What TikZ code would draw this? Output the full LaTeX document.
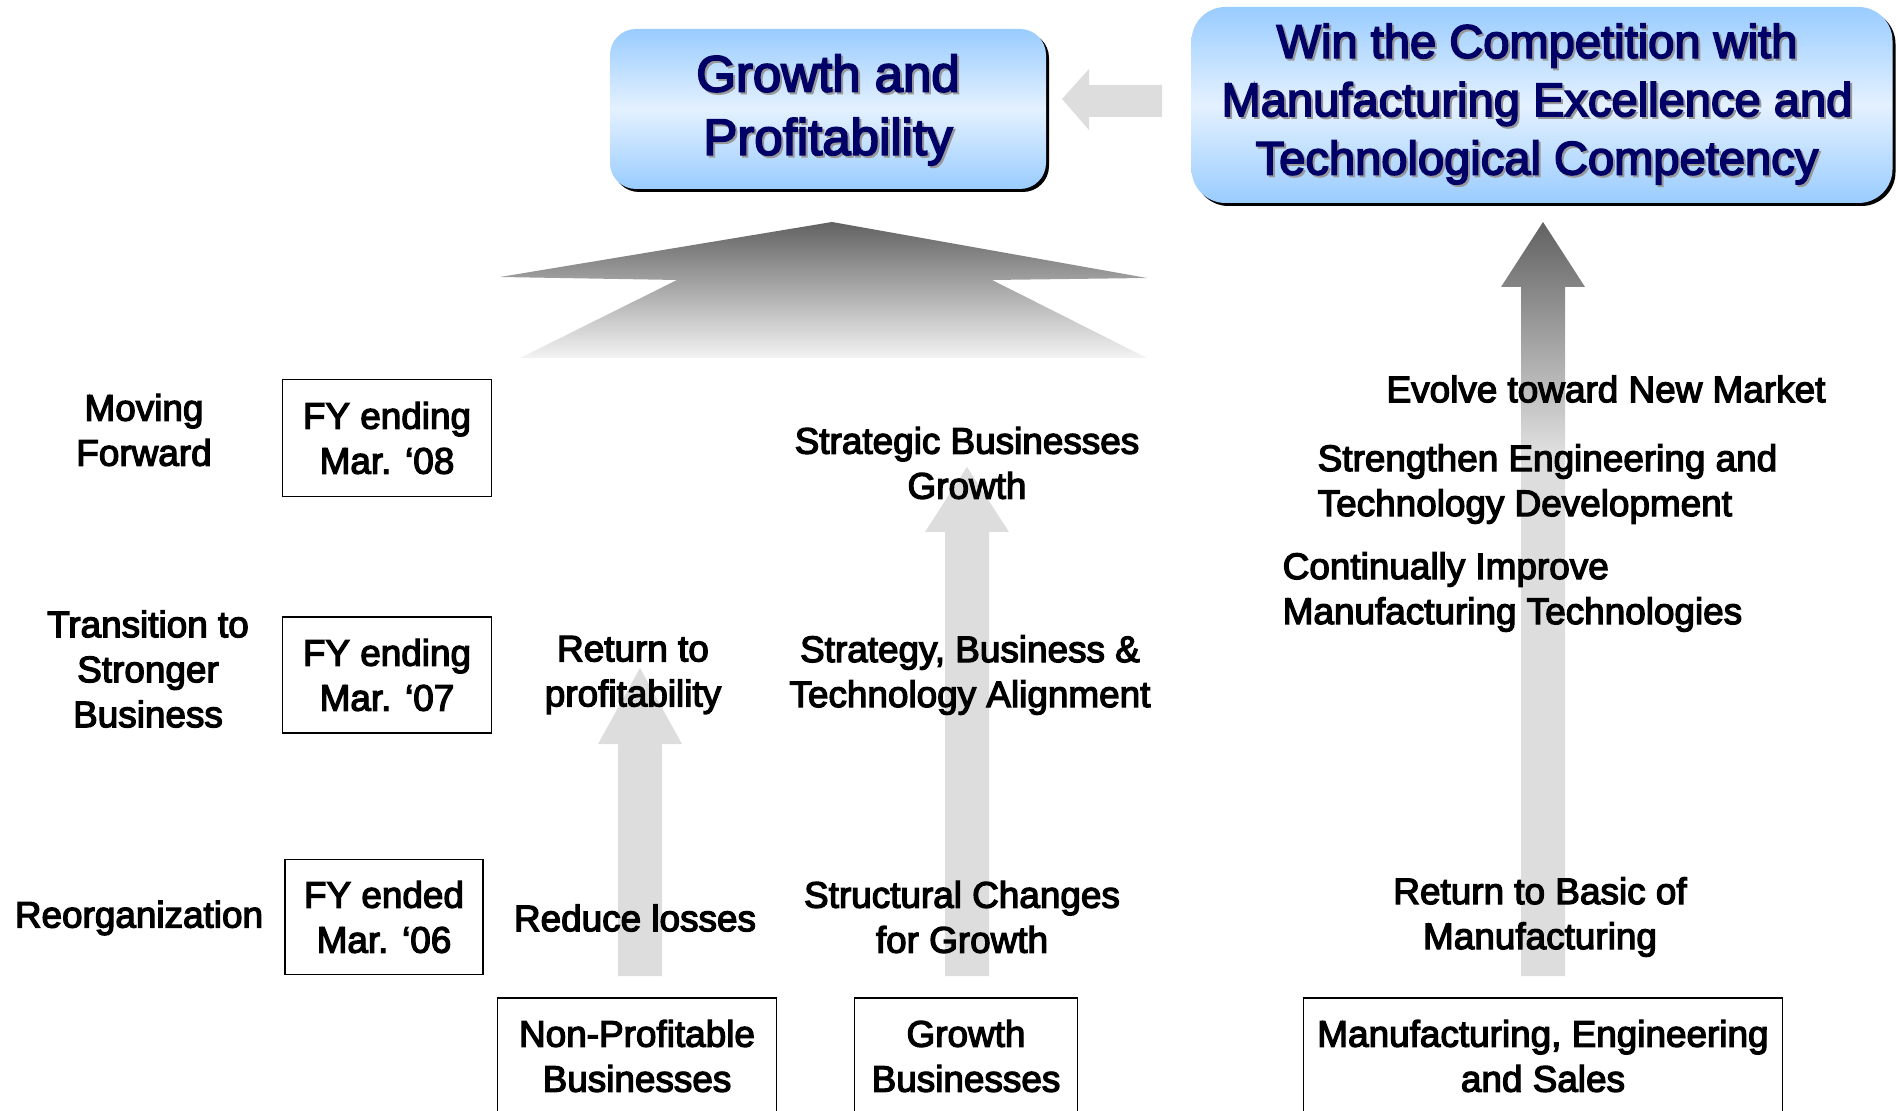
\documentclass[tikz,border=0pt]{standalone}
\usepackage{fontspec}
\setmainfont{Liberation Sans}[FakeBold=3.5]
\usetikzlibrary{shadows}
\definecolor{navy}{RGB}{0,0,102}
\definecolor{skyedge}{RGB}{153,204,255}
\definecolor{skymid}{RGB}{228,241,255}
\definecolor{palegray}{RGB}{221,221,221}
\definecolor{deepgray}{RGB}{98,98,98}
\definecolor{fadegray}{RGB}{243,243,243}
\pgfdeclareverticalshading{risegray}{100bp}{color(0bp)=(palegray); color(60bp)=(palegray); color(75bp)=(deepgray); color(100bp)=(deepgray)}
% upward block arrow: style, x, tip y, head base y, foot y
\newcommand{\blockarrow}[5]{\path[#1] (#2,#3) -- (#2+42,#4) -- (#2+22,#4) -- (#2+22,#5) -- (#2-22,#5) -- (#2-22,#4) -- (#2-42,#4) -- cycle;}
\begin{document}
\begin{tikzpicture}[x=0.1mm,y=-0.1mm,line join=miter,stage/.style={font=\fontsize{10.5}{12.8}\selectfont, align=center, inner sep=0pt},year box/.style={draw, line width=0.17mm, font=\fontsize{10.5}{12.8}\selectfont, align=center, inner sep=0pt},unit box/.style={draw, line width=0.17mm, font=\fontsize{10.5}{12.8}\selectfont, align=center, inner sep=0pt, minimum height=11.6mm},goal box/.style={top color=skyedge, bottom color=skyedge, middle color=skymid, drop shadow={shadow xshift=0.3mm, shadow yshift=-0.3mm, fill=black, opacity=1}},goal text/.style={font=\fontsize{13.4}{16.6}\selectfont, align=center, inner sep=0pt, text=navy},goal shade/.style={goal text, text=black!40},flat arrow/.style={fill=palegray}]%
\useasboundingbox (0,0) rectangle (1898,1111);%
  % Goals%
\node[goal box, rounded corners=2.6mm, minimum width=43.6mm, minimum height=16mm] (growth) at (828,109) {};%
\node[goal box, rounded corners=3.4mm, minimum width=70.1mm, minimum height=19.6mm] (win) at (1542,105) {};%
\node[goal shade, font=\fontsize{14.5}{18}\selectfont] (growth-shade) at (830,112) {Growth and\\Profitability};%
\node[goal text, font=\fontsize{14.5}{18}\selectfont] (growth-text) at (828,110) {Growth and\\Profitability};%
\node[goal shade] (win-shade) at (1539,106) {Win the Competition with\\Manufacturing Excellence and\\Technological Competency};%
\node[goal text] (win-text) at (1537,104) {Win the Competition with\\Manufacturing Excellence and\\Technological Competency};%
\path[flat arrow] (1062,99) -- (1089,69) -- (1089,85) -- (1162,85) -- (1162,117) -- (1089,117) -- (1089,130) -- cycle;%
  % Rising arrows%
\path[top color=deepgray, bottom color=fadegray] (832,222) -- (1147,278) -- (992,280) -- (1147,358) -- (520,358) -- (677,280) -- (500,277) -- cycle;%
\blockarrow{flat arrow}{640}{668}{744}{976}%
\blockarrow{flat arrow}{967}{467}{532}{976}%
\blockarrow{shading=risegray}{1543}{222}{287}{976}%
  % Year 2008%
\node[stage] (moving) at (144,430) {Moving\\Forward};%
\node[year box, minimum width=20.9mm, minimum height=11.7mm] (fy08) at (387,438) {FY ending\\Mar. `08};%
  % Year 2007%
\node[stage] (transition) at (148,669) {Transition to\\Stronger\\Business};%
\node[year box, minimum width=20.9mm, minimum height=11.6mm] (fy07) at (387,675) {FY ending\\Mar. `07};%
  % Year 2006%
\node[stage] (reorg) at (139,918) {Reorganization};%
\node[year box, minimum width=19.8mm, minimum height=11.5mm] (fy06) at (384,917) {FY ended\\Mar. `06};%
  % Non-profitable businesses%
\node[stage] (reduce) at (635,918) {Reduce losses};%
\node[stage] (profit) at (633,675) {Return to\\profitability};%
\node[unit box, minimum width=27.9mm] (nonprofit) at (637,1056) {Non-Profitable\\Businesses};%
  % Growth businesses%
\node[stage] (structural) at (962,917) {Structural Changes\\for Growth};%
\node[stage] (alignment) at (970,675) {Strategy, Business \&\\Technology Alignment};%
\node[stage] (strategic) at (967,463) {Strategic Businesses\\Growth};%
\node[unit box, minimum width=22.3mm] (growthbiz) at (966,1056) {Growth\\Businesses};%
  % Manufacturing, engineering and sales%
\node[stage] (basics) at (1540,917) {Return to Basic of\\Manufacturing};%
\node[stage, anchor=west, align=left] (improve) at (1282,592) {Continually Improve\\Manufacturing Technologies};%
\node[stage, anchor=west, align=left] (strengthen) at (1317,484) {Strengthen Engineering and\\Technology Development};%
\node[stage] (evolve) at (1606,389) {Evolve toward New Market};%
\node[unit box, minimum width=47.9mm] (mfg) at (1543,1056) {Manufacturing, Engineering\\and Sales};%
\end{tikzpicture}
\end{document}
